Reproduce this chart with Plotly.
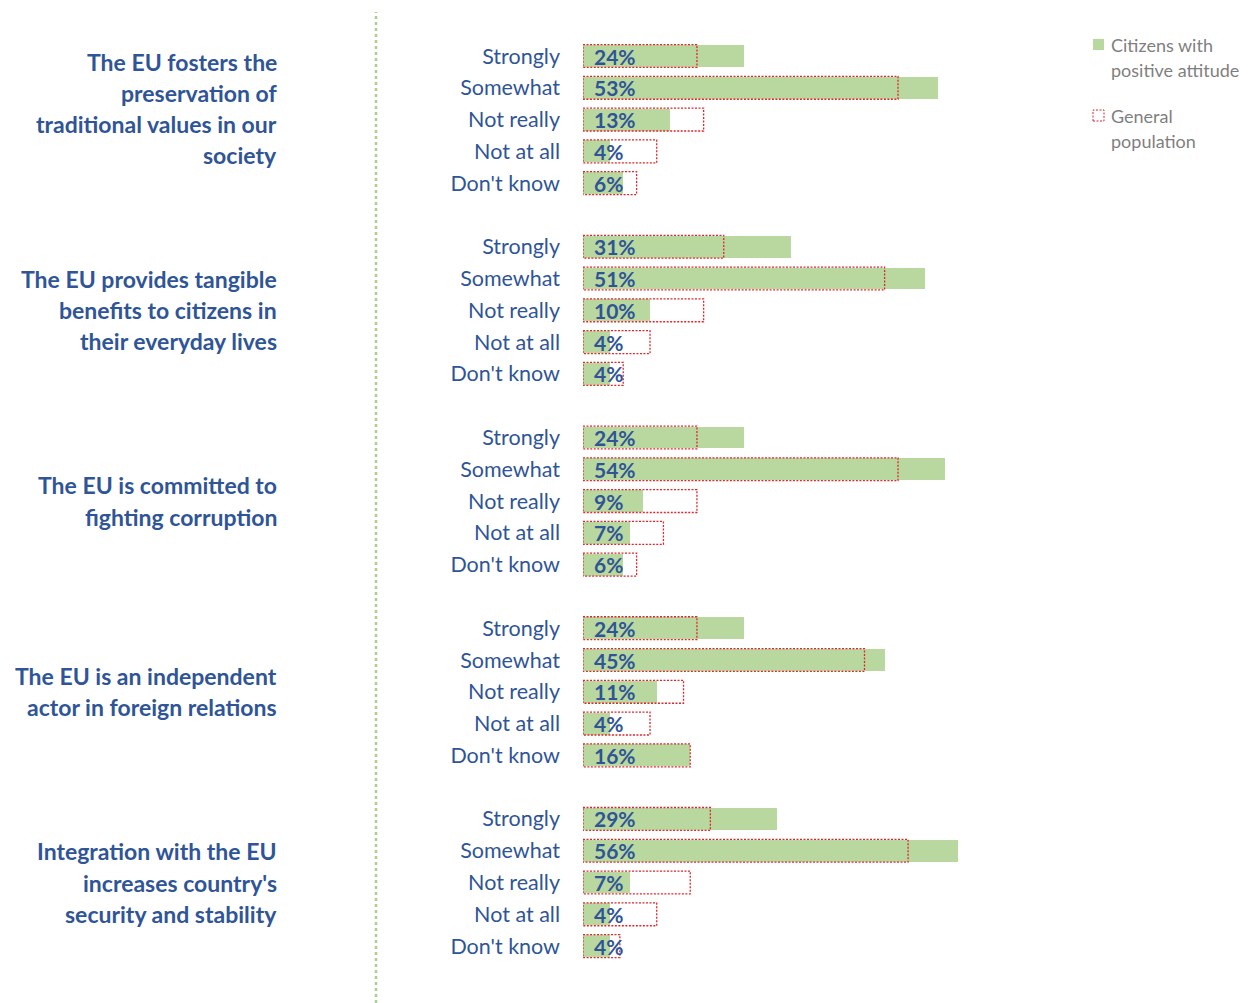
import plotly.graph_objects as go

# enunciados (grupos)
grupos = [
    ["The EU fosters the", "preservation of", "traditional values in our", "society"],
    ["The EU provides tangible", "benefits to citizens in", "their everyday lives"],
    ["The EU is committed to", "fighting corruption"],
    ["The EU is an independent", "actor in foreign relations"],
    ["Integration with the EU", "increases country's", "security and stability"],
]
respuestas = ["Strongly", "Somewhat", "Not really", "Not at all", "Don't know"]

# ciudadanos con actitud positiva (barra verde, etiqueta)
positivos = [
    [24, 53, 13, 4, 6],
    [31, 51, 10, 4, 4],
    [24, 54, 9, 7, 6],
    [24, 45, 11, 4, 16],
    [29, 56, 7, 4, 4],
]
# poblacion general (contorno rojo)
general = [
    [17, 47, 18, 11, 8],
    [21, 45, 18, 10, 6],
    [17, 47, 17, 12, 8],
    [17, 42, 15, 10, 16],
    [19, 48.5, 16, 11, 5.5],
]

leyenda = ["Citizens with", "positive attitude", "General", "population"]

azul = "#2F5597"
verde = "#B9D8A0"
rojo = "#E0262C"
gris = "#7F7F7F"
fuente = "Lato"

W, H = 1244, 995
L, PW = 575, 500


# pasar pixeles de la pagina a coordenadas paper
def px(xp):
    return (xp - 8 - L) / PW


def py(yp):
    return 1 - (yp - 8) / H


filas = []
etiquetas = []
vals_pos = []
vals_gen = []
for g in range(len(grupos)):
    for k in range(len(respuestas)):
        filas.append(g * 6 + k)
        etiquetas.append(respuestas[k])
        vals_pos.append(positivos[g][k])
        vals_gen.append(general[g][k])

fig = go.Figure()
fig.add_trace(go.Bar(
    x=vals_pos, y=filas, orientation="h", width=0.69,
    marker=dict(color=verde, line=dict(width=0)),
    name="Citizens with positive attitude", hoverinfo="skip",
))

for y, v in zip(filas, vals_gen):
    fig.add_shape(type="rect", xref="x", yref="y", x0=0, x1=v, y0=y - 0.36, y1=y + 0.36,
                  line=dict(color=rojo, width=1.3, dash="2px,1.5px"), layer="above")

for y, v in zip(filas, vals_pos):
    fig.add_annotation(x=0, y=y, xref="x", yref="y", text="<b>%d%%</b>" % v,
                       showarrow=False, xanchor="left", xshift=9,
                       font=dict(family=fuente, size=21, color=azul))

for g, lineas in enumerate(grupos):
    medio = g * 6 + 2
    if g == 0:
        medio -= 0.35
    n = len(lineas)
    for j, t in enumerate(lineas):
        fig.add_annotation(x=px(279), y=medio + (j - (n - 1) / 2) * 0.98, xref="paper", yref="y",
                           text="<b>" + t + "</b>", showarrow=False, xanchor="right",
                           font=dict(family=fuente, size=23, color=azul))

# linea punteada vertical
fig.add_shape(type="line", xref="paper", yref="paper", x0=px(376), x1=px(376), y0=0, y1=py(12),
              line=dict(color="#A9D18E", width=2.5, dash="dot"))

# leyenda manual
fig.add_shape(type="rect", xref="paper", yref="paper", x0=px(1093), x1=px(1104), y0=py(50), y1=py(39),
              fillcolor=verde, line=dict(width=0))
fig.add_shape(type="rect", xref="paper", yref="paper", x0=px(1093), x1=px(1104), y0=py(121), y1=py(110),
              line=dict(color=rojo, width=1, dash="2px,1.5px"))
for t, yp in zip(leyenda, [45, 70, 116, 141]):
    fig.add_annotation(x=px(1109), y=py(yp), xref="paper", yref="paper", text=t,
                       showarrow=False, xanchor="left", yanchor="middle",
                       font=dict(family=fuente, size=18, color=gris))

fig.update_layout(
    width=W, height=H,
    margin=dict(l=L, r=W - L - PW, t=0, b=0),
    plot_bgcolor="white", paper_bgcolor="white",
    showlegend=False,
    bargap=0,
)
fig.update_xaxes(range=[0, 74.6], visible=False, fixedrange=True)
fig.update_yaxes(range=[29.79, -1.51], tickvals=filas, ticktext=etiquetas,
                 showgrid=False, zeroline=False, showline=False, ticks="",
                 ticklabelstandoff=22,
                 tickfont=dict(family=fuente, size=21.5, color=azul))

fig.write_html("out.html")
